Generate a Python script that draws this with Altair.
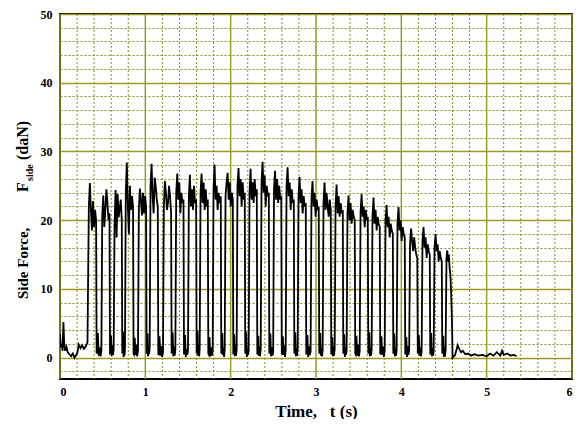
import altair as alt
import pandas as pd

# ---- data ----
pre_t = [0.000, 0.010, 0.020, 0.030, 0.040, 0.050, 0.060, 0.075, 0.090, 0.110, 0.130,
         0.150, 0.170, 0.190, 0.205, 0.220, 0.240, 0.260, 0.280, 0.300, 0.322]
pre_f = [3.5, 1.5, 2.0, 1.0, 5.2, 1.8, 1.0, 1.6, 0.8, 0.5, 0.2,
         0.6, 0.0, 0.4, 0.8, 1.9, 1.4, 1.8, 1.3, 1.6, 2.2]

pulse_start = [0.332, 0.489, 0.633, 0.765, 0.918, 1.055, 1.211, 1.356, 1.504, 1.641,
               1.793, 1.934, 2.074, 2.215, 2.356, 2.502, 2.649, 2.789, 2.941, 3.082,
               3.223, 3.363, 3.516, 3.656, 3.809, 3.949, 4.096, 4.242, 4.383, 4.523]
pulse_end = [0.429, 0.586, 0.730, 0.862, 1.015, 1.152, 1.308, 1.453, 1.601, 1.738,
             1.890, 2.031, 2.171, 2.312, 2.453, 2.599, 2.746, 2.886, 3.038, 3.179,
             3.320, 3.460, 3.613, 3.753, 3.906, 4.046, 4.193, 4.339, 4.480, 4.600]

pulse_top = [
    [22.0, 25.4, 21.5, 18.5, 22.8, 19.0, 21.5, 20.0],
    [20.5, 23.6, 19.0, 21.5, 24.5, 22.6, 20.0, 21.0],
    [19.0, 24.4, 17.5, 23.8, 20.4, 21.7, 23.0, 20.0],
    [24.0, 28.4, 22.0, 18.0, 25.0, 21.5, 23.5, 22.0],
    [21.5, 24.6, 23.0, 20.7, 24.0, 21.0, 23.5, 22.0],
    [25.0, 28.2, 23.5, 21.0, 26.2, 25.0, 23.0, 22.0],
    [22.0, 25.7, 24.0, 21.5, 22.5, 25.0, 23.5, 21.0],
    [24.0, 26.8, 23.0, 25.5, 21.0, 24.0, 22.5, 23.0],
    [23.5, 26.6, 22.0, 24.5, 21.5, 25.0, 22.5, 23.0],
    [24.0, 26.8, 22.5, 25.5, 21.5, 24.5, 22.0, 23.0],
    [24.5, 28.1, 23.0, 25.0, 21.5, 24.0, 22.5, 23.5],
    [23.5, 25.5, 26.9, 23.0, 25.5, 22.0, 24.0, 23.0],
    [25.0, 27.6, 23.5, 26.0, 22.0, 25.5, 23.0, 24.0],
    [24.0, 27.5, 23.0, 25.5, 22.5, 26.0, 23.5, 24.5],
    [25.5, 28.5, 24.0, 26.5, 22.0, 25.0, 23.5, 24.0],
    [24.5, 27.2, 23.0, 26.0, 22.5, 25.0, 23.0, 23.5],
    [25.0, 27.7, 23.5, 25.5, 21.5, 24.5, 22.5, 23.0],
    [23.5, 26.3, 22.5, 24.5, 21.0, 23.5, 22.0, 22.5],
    [23.0, 25.7, 22.0, 24.0, 20.5, 23.0, 21.5, 22.0],
    [22.5, 25.5, 21.5, 24.0, 22.0, 20.5, 23.0, 21.5],
    [22.0, 25.2, 21.0, 23.5, 20.5, 22.5, 21.0, 21.5],
    [21.0, 23.6, 20.0, 22.5, 19.5, 21.5, 20.5, 20.0],
    [21.0, 23.8, 20.5, 22.0, 19.0, 21.5, 20.0, 20.5],
    [20.5, 23.3, 19.5, 21.5, 18.5, 20.5, 19.5, 19.0],
    [20.0, 22.2, 19.0, 20.5, 17.5, 19.5, 18.5, 18.0],
    [19.5, 21.9, 18.5, 20.0, 17.0, 19.0, 18.0, 17.5],
    [16.5, 18.8, 17.0, 15.5, 17.5, 16.0, 15.0, 14.5],
    [17.0, 19.0, 16.0, 17.5, 14.5, 16.5, 15.5, 15.0],
    [16.0, 18.0, 15.5, 16.5, 14.0, 15.5, 14.5, 14.0],
    [14.5, 15.6, 14.0, 15.0, 13.0, 12.0, 9.0, 5.0],
]

trough = [
    [0.8, 3.6, 0.3, 1.5, 0.2, 1.0],
    [0.6, 3.2, 0.2, 1.8, 0.4, 1.2],
    [0.9, 3.8, 0.1, 1.4, 0.3, 0.9],
    [0.5, 2.9, 0.4, 1.9, 0.2, 1.1],
    [0.7, 3.5, 0.2, 1.3, 0.5, 1.4],
    [0.4, 3.1, 0.3, 1.7, 0.1, 0.8],
    [0.8, 3.7, 0.2, 1.6, 0.3, 1.2],
    [0.6, 3.3, 0.1, 1.2, 0.4, 1.0],
    [0.9, 3.9, 0.3, 1.8, 0.2, 1.3],
    [0.5, 3.0, 0.2, 1.5, 0.3, 0.9],
    [0.7, 3.6, 0.4, 1.4, 0.1, 1.1],
    [0.6, 3.4, 0.2, 1.9, 0.3, 1.2],
    [0.8, 3.8, 0.1, 1.3, 0.4, 1.0],
    [0.5, 3.2, 0.3, 1.6, 0.2, 1.3],
    [0.7, 3.5, 0.2, 1.5, 0.3, 0.8],
    [0.6, 3.1, 0.4, 1.8, 0.1, 1.1],
    [0.9, 3.7, 0.2, 1.4, 0.3, 1.2],
    [0.5, 3.3, 0.1, 1.7, 0.4, 0.9],
    [0.8, 3.6, 0.3, 1.3, 0.2, 1.0],
    [0.6, 3.0, 0.2, 1.6, 0.3, 1.3],
    [0.7, 3.4, 0.1, 1.5, 0.4, 1.1],
    [0.5, 3.2, 0.3, 1.9, 0.2, 0.9],
    [0.8, 3.7, 0.2, 1.4, 0.3, 1.2],
    [0.6, 3.1, 0.4, 1.6, 0.1, 1.0],
    [0.7, 3.5, 0.2, 1.3, 0.3, 1.1],
    [0.5, 3.0, 0.1, 1.7, 0.4, 1.2],
    [0.8, 3.3, 0.3, 1.5, 0.2, 0.9],
    [0.6, 3.6, 0.2, 1.4, 0.3, 1.0],
    [0.7, 3.2, 0.1, 1.6, 0.2, 1.1],
]

post_t = [4.600, 4.630, 4.660, 4.680, 4.700, 4.720, 4.750, 4.780, 4.820, 4.860, 4.900, 4.950,
          5.000, 5.040, 5.080, 5.120, 5.160, 5.180, 5.200, 5.240, 5.280, 5.320, 5.350]
post_f = [0.0, 0.4, 1.8, 1.2, 0.8, 1.0, 0.5, 0.6, 0.3, 0.5, 0.3, 0.4,
          0.2, 0.6, 0.3, 0.8, 0.3, 1.0, 0.4, 0.6, 0.3, 0.4, 0.2]

x_major = [0, 1, 2, 3, 4, 5, 6]
x_minor = [round(0.2 * k, 1) for k in range(31) if k % 5 != 0]
y_grid = list(range(-2, 51, 2))

# ---- assemble the trace ----
T, F = list(pre_t), list(pre_f)
n = len(pulse_start)
for i in range(n):
    s, e = pulse_start[i], pulse_end[i]
    tops = pulse_top[i]
    m = len(tops)
    for k, v in enumerate(tops):
        T.append(s + 0.006 + (e - s - 0.012) * k / (m - 1))
        F.append(v)
    if i < n - 1:
        T.append(e)
        F.append(0.6)
        nxt = pulse_start[i + 1]
        tr = trough[i]
        for k, v in enumerate(tr):
            T.append(e + 0.004 + (nxt - e - 0.008) * k / (len(tr) - 1))
            F.append(v)
T += post_t
F += post_f
df = pd.DataFrame({"t": T, "f": F, "o": range(len(T))})

MAJ = "#9a9a28"
MIN = "#8c8c1e"
FONT = "Liberation Serif"
NB = "\u00a0"

xscale = alt.Scale(domain=[0, 6], nice=False, zero=False)
yscale = alt.Scale(domain=[-3.1, 50], nice=False, zero=False)

x_axis = alt.Axis(
    values=x_major, format="d",
    title="Time," + NB * 3 + "t" + NB + "(s)", titleFont=FONT, titleFontSize=17,
    titleFontWeight="bold", titleColor="black", titlePadding=6,
    labelFont=FONT, labelFontSize=12, labelFontWeight="bold", labelColor="black",
    labelPadding=7, labelOverlap=False, ticks=False, domain=False, grid=False,
)
y_axis = alt.Axis(
    values=y_grid, tickCount=100, format="d",
    labelExpr="datum.value % 10 === 0 ? datum.label : ''",
    title=None,
    labelFont=FONT, labelFontSize=12, labelFontWeight="bold", labelColor="black",
    labelPadding=8, labelOverlap=False, ticks=False, domain=False,
    gridColor={"condition": {"test": "datum.value % 10 !== 0", "value": MIN}, "value": MAJ},
    gridDash={"condition": {"test": "datum.value % 10 !== 0", "value": [2, 2]}, "value": []},
    gridWidth={"condition": {"test": "datum.value % 10 !== 0", "value": 1}, "value": 1.5},
    gridOpacity=1,
)

minor_rules = alt.Chart(pd.DataFrame({"t": x_minor})).mark_rule(
    color=MIN, strokeWidth=1, strokeDash=[2, 2]
).encode(x=alt.X("t:Q", scale=xscale, axis=x_axis))
major_rules = alt.Chart(pd.DataFrame({"t": x_major})).mark_rule(
    color=MAJ, strokeWidth=1.5
).encode(x=alt.X("t:Q", scale=xscale, axis=x_axis))

line = alt.Chart(df).mark_line(color="black", strokeWidth=1.8, clip=True).encode(
    x=alt.X("t:Q", scale=xscale, axis=x_axis),
    y=alt.Y("f:Q", scale=yscale, axis=y_axis),
    order="o:Q",
)

def label(txt, x, y, size):
    return alt.Chart(pd.DataFrame({"s": [txt]})).mark_text(
        angle=270, align="left", baseline="alphabetic", font=FONT,
        fontSize=size, fontWeight="bold", color="black"
    ).encode(text="s:N", x=alt.value(x), y=alt.value(y))

# plot area origin is at page pixel (60, 14)
t1 = label("Side Force,", -32, 285, 15)
t2 = label("F", -32, 178, 16)
t3 = label("side", -27, 167, 10)
t4 = label("(daN)", -32, 146, 16)

chart = alt.layer(minor_rules, major_rules, line, t1, t2, t3, t4).properties(
    width=512, height=365, autosize="none",
    padding={"left": 52, "top": 6, "right": 8, "bottom": 40},
).configure_view(stroke="black", strokeWidth=2)

chart.save("out.html", embed_options={"renderer": "svg", "actions": False})
